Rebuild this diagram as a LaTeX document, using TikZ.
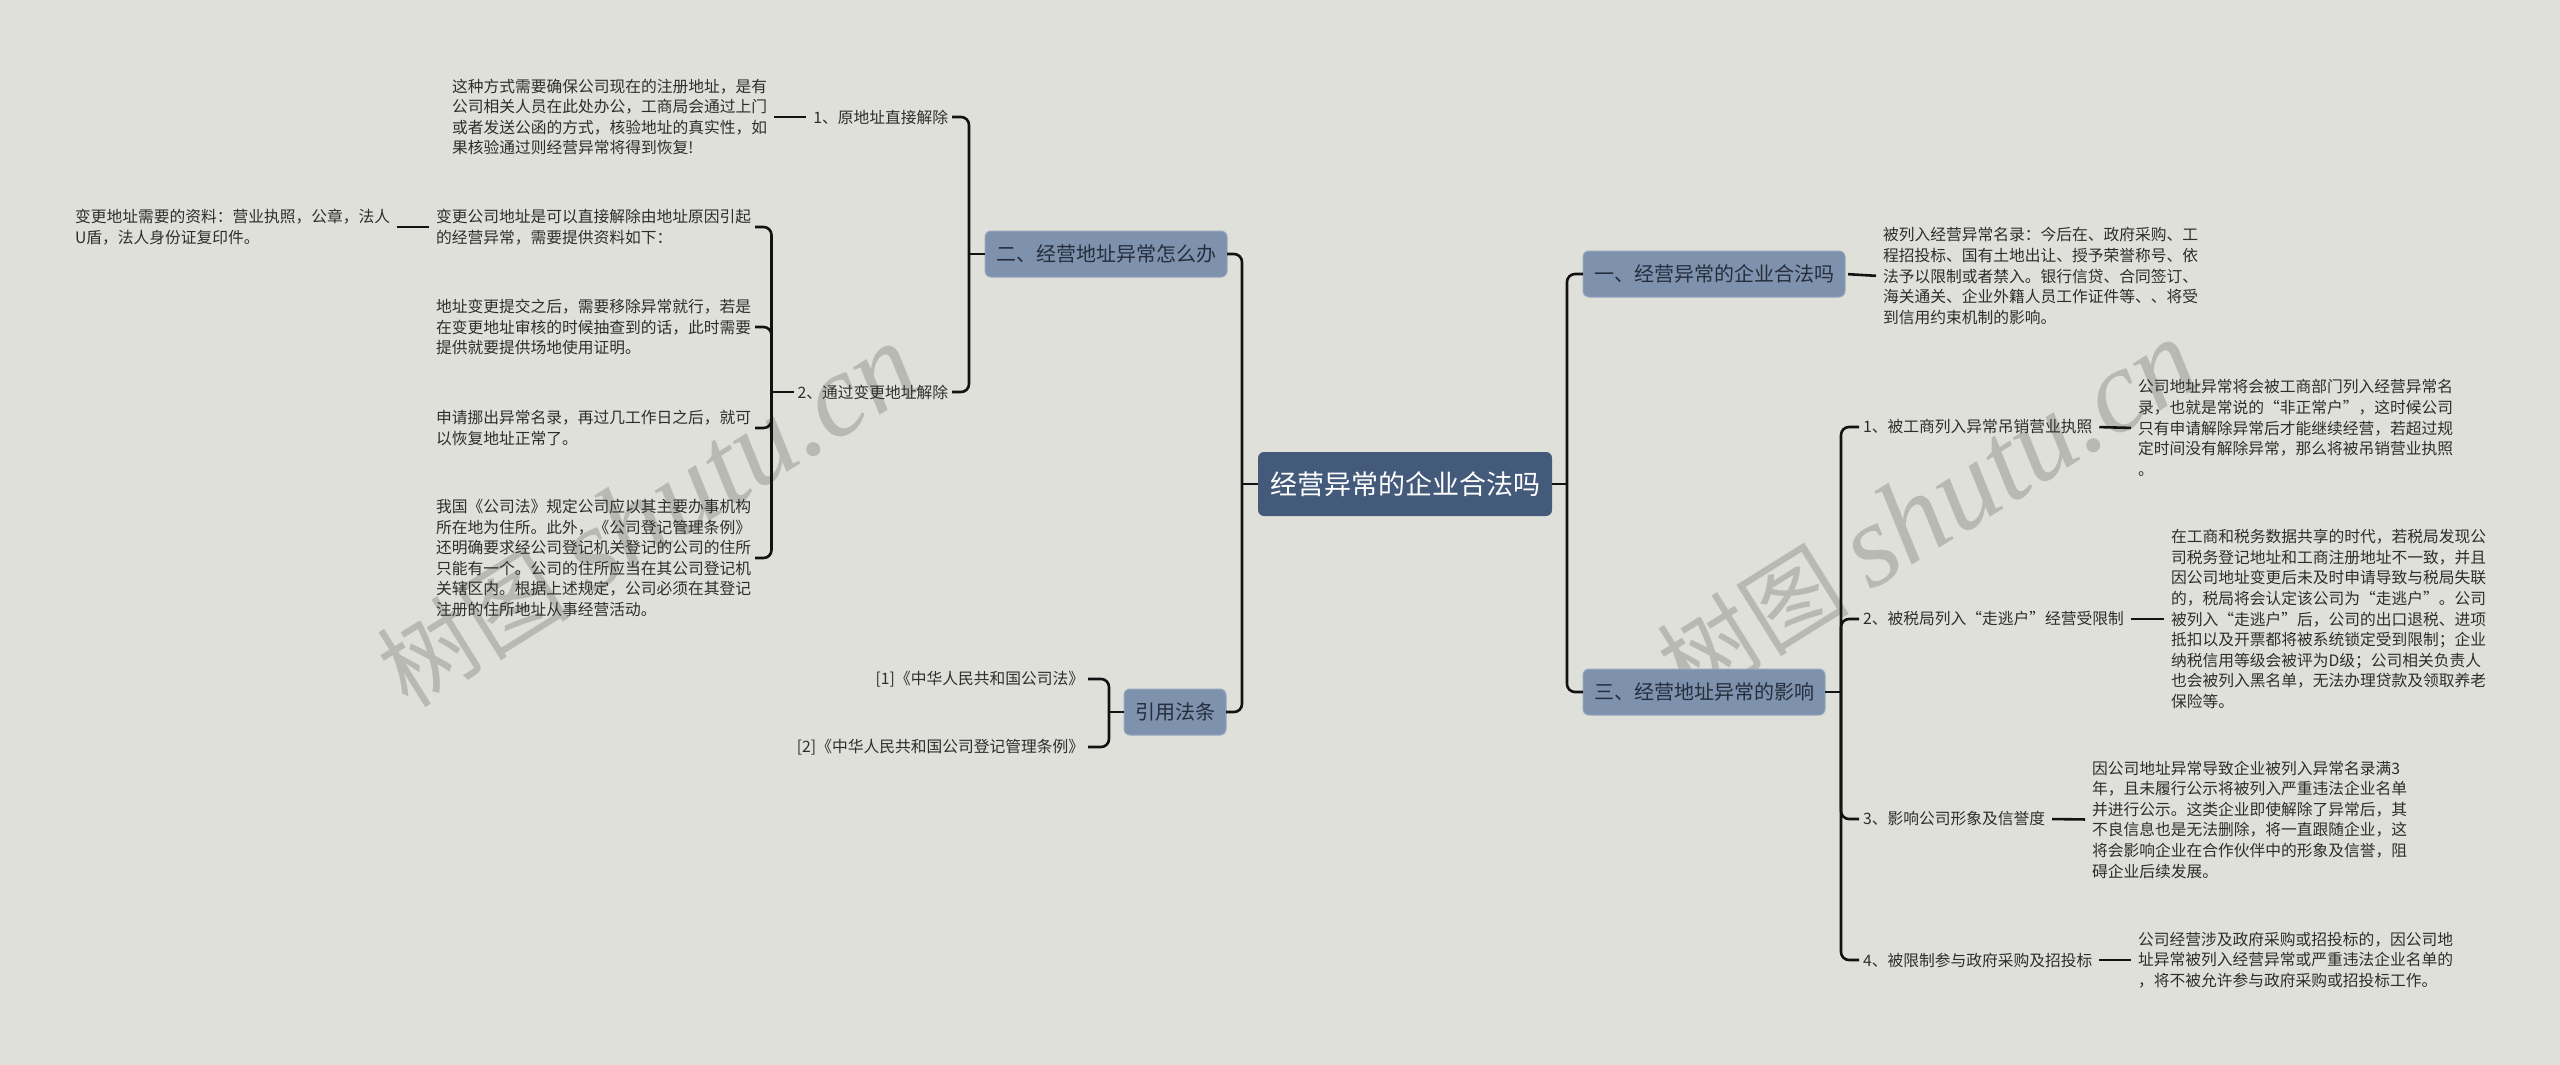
\documentclass[tikz,border=0pt]{standalone}
\usepackage{fontspec}
\setmainfont{Noto Sans CJK SC}
\newfontfamily\wmlatin{Liberation Serif}
\newfontfamily\wmcjk{Noto Sans CJK SC}
\definecolor{bg}{RGB}{224,224,219}
\definecolor{rootfill}{RGB}{68,90,123}
\definecolor{topicfill}{RGB}{126,145,173}
\definecolor{topicline}{RGB}{150,166,190}
\definecolor{topictext}{RGB}{38,46,60}
\definecolor{txt}{RGB}{45,45,45}
\definecolor{wirec}{RGB}{18,18,18}
\definecolor{wmc}{RGB}{185,185,180}
\begin{document}
\begin{tikzpicture}[x=1pt,y=-1pt,
  every node/.style={inner sep=0pt,outer sep=0pt},
  rootbox/.style={fill=rootfill,rounded corners=6pt,text=white,
    font=\fontsize{27}{32}\selectfont,minimum height=64pt,inner xsep=12pt},
  topicbox/.style={fill=topicfill,draw=topicline,line width=1pt,rounded corners=6pt,
    text=topictext,font=\fontsize{20}{24}\selectfont,minimum height=46pt,inner xsep=11pt},
  lbl/.style={text=txt,font=\fontsize{15.75}{20.6}\selectfont,inner xsep=4pt,inner ysep=2pt},
  body/.style={text=txt,font=\fontsize{15.75}{20.6}\selectfont,align=left,inner xsep=4pt,inner ysep=2pt},
  wire/.style={draw=wirec,line width=2.6pt},
  hook/.style={wire,rounded corners=8pt},
  stub/.style={wire,shorten <=3pt,shorten >=3pt},
  wmark/.style={text=wmc,rotate=32}
]
\fill[bg] (0,0) rectangle (2560,1065);
\useasboundingbox (0,0) rectangle (2560,1065);

% watermarks
\node[wmark] (wm1) at (648,516) {\wmcjk\fontsize{96}{100}\selectfont 树图 \wmlatin\itshape\fontsize{118}{120}\selectfont shutu.cn};
\node[wmark] (wm2) at (1928,512) {\wmcjk\fontsize{96}{100}\selectfont 树图 \wmlatin\itshape\fontsize{118}{120}\selectfont shutu.cn};

% root and main topics
\node[rootbox] (root) at (1405,484) {经营异常的企业合法吗};
\node[topicbox,anchor=east] (two) at (1227,254) {二、经营地址异常怎么办};
\node[topicbox,anchor=east] (cite) at (1226,712) {引用法条};
\node[topicbox,anchor=west] (one) at (1583,274) {一、经营异常的企业合法吗};
\node[topicbox,anchor=west] (three) at (1583,692) {三、经营地址异常的影响};

% left subtree
\node[lbl,anchor=east] (a1) at (952,117) {1、原地址直接解除};
\node[body,anchor=east] (a1t) at (771,117) {这种方式需要确保公司现在的注册地址，是有\\公司相关人员在此处办公，工商局会通过上门\\或者发送公函的方式，核验地址的真实性，如\\果核验通过则经营异常将得到恢复!};
\node[lbl,anchor=east] (a2) at (952,392) {2、通过变更地址解除};
\node[body,anchor=east] (b1) at (755,227) {变更公司地址是可以直接解除由地址原因引起\\的经营异常，需要提供资料如下：};
\node[body,anchor=east] (b1t) at (394,227) {变更地址需要的资料：营业执照，公章，法人\\U盾，法人身份证复印件。};
\node[body,anchor=east] (b2) at (755,327) {地址变更提交之后，需要移除异常就行，若是\\在变更地址审核的时候抽查到的话，此时需要\\提供就要提供场地使用证明。};
\node[body,anchor=east] (b3) at (755,428) {申请挪出异常名录，再过几工作日之后，就可\\以恢复地址正常了。};
\node[body,anchor=east] (b4) at (755,558) {我国《公司法》规定公司应以其主要办事机构\\所在地为住所。此外，《公司登记管理条例》\\还明确要求经公司登记机关登记的公司的住所\\只能有一个。公司的住所应当在其公司登记机\\关辖区内。根据上述规定，公司必须在其登记\\注册的住所地址从事经营活动。};
\node[lbl,anchor=east] (r1) at (1088,679) {[1]《中华人民共和国公司法》};
\node[lbl,anchor=east] (r2) at (1088,747) {[2]《中华人民共和国公司登记管理条例》};

% right subtree
\node[body,anchor=west] (onet) at (1879,276) {被列入经营异常名录：今后在、政府采购、工\\程招投标、国有土地出让、授予荣誉称号、依\\法予以限制或者禁入。银行信贷、合同签订、\\海关通关、企业外籍人员工作证件等、、将受\\到信用约束机制的影响。};
\node[lbl,anchor=west] (c1) at (1859,427) {1、被工商列入异常吊销营业执照};
\node[body,anchor=west] (c1t) at (2134,428) {公司地址异常将会被工商部门列入经营异常名\\录，也就是常说的“非正常户”，这时候公司\\只有申请解除异常后才能继续经营，若超过规\\定时间没有解除异常，那么将被吊销营业执照\\。};
\node[lbl,anchor=west] (c2) at (1859,619) {2、被税局列入“走逃户”经营受限制};
\node[body,anchor=west] (c2t) at (2167,619) {在工商和税务数据共享的时代，若税局发现公\\司税务登记地址和工商注册地址不一致，并且\\因公司地址变更后未及时申请导致与税局失联\\的，税局将会认定该公司为“走逃户”。公司\\被列入“走逃户”后，公司的出口退税、进项\\抵扣以及开票都将被系统锁定受到限制；企业\\纳税信用等级会被评为D级；公司相关负责人\\也会被列入黑名单，无法办理贷款及领取养老\\保险等。};
\node[lbl,anchor=west] (c3) at (1859,819) {3、影响公司形象及信誉度};
\node[body,anchor=west] (c3t) at (2088,819.5) {因公司地址异常导致企业被列入异常名录满3\\年，且未履行公示将被列入严重违法企业名单\\并进行公示。这类企业即使解除了异常后，其\\不良信息也是无法删除，将一直跟随企业，这\\将会影响企业在合作伙伴中的形象及信誉，阻\\碍企业后续发展。};
\node[lbl,anchor=west] (c4) at (1859,960) {4、被限制参与政府采购及招投标};
\node[body,anchor=west] (c4t) at (2134,960) {公司经营涉及政府采购或招投标的，因公司地\\址异常被列入经营异常或严重违法企业名单的\\，将不被允许参与政府采购或招投标工作。};

% trunk points
\coordinate (rL) at ([xshift=-16pt]root.west);
\coordinate (rR) at ([xshift=15pt]root.east);
\coordinate (tw) at ([xshift=-16pt]two.west);
\coordinate (a2j) at ([xshift=-22pt]a2.west);
\coordinate (cj) at ([xshift=-15pt]cite.west);
\coordinate (th) at ([xshift=16pt]three.east);

% connectors
\draw[wire] (root.west) -- (rL);
\draw[hook] (rL) |- (two.east);
\draw[hook] (rL) |- (cite.east);
\draw[wire] (root.east) -- (rR);
\draw[hook] (rR) |- (one.west);
\draw[hook] (rR) |- (three.west);

\draw[wire] (two.west) -- (tw);
\draw[hook] (tw) |- (a1.east);
\draw[hook] (tw) |- (a2.east);
\draw[stub] (a1.west) -- (a1t.east);

\draw[wire] (a2.west) -- (a2j);
\draw[hook] (a2j) |- (b1.east);
\draw[hook] (a2j) |- (b2.east);
\draw[hook] (a2j) |- (b3.east);
\draw[hook] (a2j) |- (b4.east);
\draw[stub] (b1.west) -- (b1t.east);

\draw[wire] (cite.west) -- (cj);
\draw[hook] (cj) |- (r1.east);
\draw[hook] (cj) |- (r2.east);

\draw[stub] (one.east) -- (onet.west);

\draw[wire] (three.east) -- (th);
\draw[hook] (th) |- (c1.west);
\draw[hook] (th) |- (c2.west);
\draw[hook] (th) |- (c3.west);
\draw[hook] (th) |- (c4.west);
\draw[stub] (c1.east) -- (c1t.west);
\draw[stub] (c2.east) -- (c2t.west);
\draw[stub] (c3.east) -- (c3t.west);
\draw[stub] (c4.east) -- (c4t.west);
\end{tikzpicture}
\end{document}
